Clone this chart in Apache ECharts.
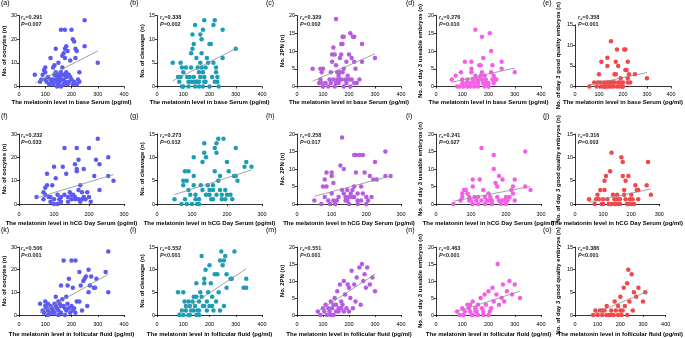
<!DOCTYPE html>
<html>
<head>
<meta charset="utf-8">
<script src="https://cdn.jsdelivr.net/npm/echarts@6/dist/echarts.min.js"></script>
<style>
  html, body { margin: 0; padding: 0; background: #fff; }
  #chart { width: 685px; height: 338px; }
</style>
</head>
<body>
<div id="chart"></div>
<script>
// outcome per column, melatonin source per row
var yNames = ['No. of oocytes (n)', 'No. of cleavage (n)', 'No. 2PN (n)',
	'No. of day 3 useable embryos (n)', 'No. of day 3 good quality embryos (n)'];
var xNames = ['The melatonin level in base Serum (pg/ml)',
	'The melatonin level in hCG Day Serum (pg/ml)',
	'The melatonin level in follicular fluid (pg/ml)'];
var yMaxList = [30, 15, 20, 20, 15];
var yStepList = [10, 5, 5, 5, 5];
var xMaxList = [400, 300, 400];
var tags = ['(a)', '(b)', '(c)', '(d)', '(e)', '(f)', '(g)', '(h)', '(i)', '(j)', '(k)', '(l)', '(m)', '(n)', '(o)'];
var rsList = ['0.291', '0.338', '0.329', '0.276', '0.358', '0.232', '0.273', '0.258', '0.241', '0.316',
	'0.506', '0.552', '0.551', '0.463', '0.386'];
var pList = ['=0.007', '=0.002', '=0.002', '=0.010', '=0.001', '=0.033', '=0.012', '=0.017', '=0.027', '=0.003',
	'<0.001', '<0.001', '<0.001', '<0.001', '<0.001'];

// row 1: base serum
var dataA = [[160,24],[175,24],[200,24],[250,28],[205,20],[210,19],[215,16],[220,15],[250,17],[300,10],[180,17],[175,16],
	[170,14],[165,13],[185,15],[140,16],[120,12],[150,10],[135,9],[130,8],[175,12],[195,11],[215,12],[230,6],[225,3],[230,2],
	[205,1],[190,2],[100,8],[95,7],[90,5],[100,6],[85,3],[80,2],[60,5],[110,4],[120,3],[125,2],[115,1],[130,1],[140,2],[145,3],
	[150,5],[155,4],[160,6],[165,5],[170,3],[175,2],[180,4],[185,1],[150,1],[160,0],[135,5],[140,6],[145,0],[170,1],[200,3],
	[220,1],[195,4],[165,8],[180,6],[190,5],[105,2],[100,3],[155,2],[145,4],[160,3],[175,5],[130,3],[210,2]];
var dataB = [[60,5],[90,5],[95,4],[90,2],[85,1],[80,2],[100,3],[95,0],[100,0],[110,4],[115,2],[120,1],[130,4],[130,7],[135,8],
	[135,11],[140,9],[145,13],[150,6],[155,4],[160,3],[165,11],[170,10],[175,12],[180,14],[165,5],[170,4],[175,3],[180,2],[185,1],
	[160,1],[150,1],[140,1],[130,1],[120,0],[145,0],[175,0],[200,0],[200,9],[205,9],[215,13],[220,14],[225,4],[225,3],[215,5],
	[210,2],[220,1],[230,1],[230,2],[235,0],[250,12],[250,6],[300,8],[190,6],[195,5],[185,4],[170,7],[165,2],[180,1],[155,1],
	[160,0],[140,2],[125,2]];
var dataC = [[60,5],[90,5],[95,4],[100,5],[90,2],[85,1],[100,0],[95,1],[110,1],[120,0],[125,2],[130,4],[135,7],[135,9],[140,11],
	[145,9],[150,19],[150,6],[155,4],[160,3],[165,2],[170,12],[175,12],[175,14],[180,14],[170,9],[165,8],[180,5],[175,4],[185,2],
	[190,1],[180,0],[200,9],[205,15],[210,8],[215,14],[220,14],[225,5],[220,7],[210,2],[220,1],[230,1],[240,2],[250,12],[250,7],
	[300,8],[160,1],[150,1],[140,2],[130,1],[145,0],[170,2],[195,3],[190,7],[200,2],[205,0],[155,2],[165,4]];
var dataD = [[60,2],[75,3],[80,0],[90,0],[95,4],[100,1],[110,7],[100,2],[105,0],[115,1],[120,0],[130,0],[135,7],[135,5],[135,4],
	[140,2],[145,1],[150,16],[150,3],[155,2],[160,1],[165,6],[170,6],[175,14],[180,8],[175,4],[170,3],[165,2],[160,0],[180,1],
	[185,0],[190,1],[200,1],[205,15],[210,10],[215,6],[210,4],[220,3],[215,2],[225,2],[230,2],[220,1],[250,7],[250,5],[300,4],
	[145,0],[130,1],[120,2],[175,2],[190,2],[200,0],[160,2],[185,3]];
var dataE = [[60,0],[80,1],[90,0],[95,1],[100,3],[105,1],[110,6],[110,0],[120,1],[125,0],[130,1],[135,7],[135,5],[140,0],[145,1],
	[150,11],[150,0],[155,1],[160,0],[165,3],[170,6],[170,3],[175,9],[180,5],[180,1],[185,0],[190,1],[195,0],[200,1],[205,9],
	[210,9],[210,4],[215,4],[220,6],[220,2],[225,3],[220,1],[230,1],[250,3],[300,2],[140,1],[160,1],[175,0],[200,0],[130,0],
	[120,0],[190,2],[165,1]];
// row 2: hCG day serum
var dataF = [[50,3],[70,5],[75,7],[80,8],[80,13],[70,2],[75,4],[85,3],[90,1],[95,8],[100,16],[100,2],[105,11],[110,0],[110,4],
	[115,2],[125,16],[130,24],[135,13],[130,4],[140,3],[145,5],[150,2],[160,17],[165,15],[165,24],[170,19],[165,14],[155,4],
	[160,3],[170,2],[175,1],[175,8],[170,6],[180,5],[185,3],[185,15],[200,24],[190,2],[200,3],[205,1],[215,12],[220,19],[225,28],
	[230,17],[230,6],[255,20],[255,12],[270,10],[120,3],[140,1],[150,4],[180,2],[195,5],[100,0],[90,3],[120,1],[160,2]];
var dataG = [[50,1],[70,0],[75,5],[75,4],[80,7],[85,5],[90,7],[90,3],[95,2],[80,1],[85,0],[100,0],[105,10],[105,6],[105,4],
	[110,2],[110,1],[115,0],[120,1],[130,3],[130,9],[135,11],[135,13],[140,10],[145,4],[150,2],[155,1],[160,3],[165,12],[165,7],
	[170,13],[170,11],[175,14],[170,2],[175,5],[180,6],[180,3],[185,1],[190,14],[195,3],[195,1],[200,9],[205,7],[210,2],[215,1],
	[220,6],[225,12],[225,6],[230,5],[250,8],[255,9],[270,8],[125,4],[140,2],[150,3],[160,4],[120,0],[160,1],[185,2],[200,2]];
var dataH = [[50,1],[70,0],[75,5],[80,7],[85,9],[80,2],[85,5],[90,1],[95,0],[100,9],[100,8],[105,6],[100,3],[105,1],[110,0],
	[115,1],[125,11],[130,19],[135,10],[130,4],[135,3],[140,2],[145,1],[150,2],[155,3],[160,4],[165,14],[170,14],[170,9],[175,3],
	[165,2],[175,1],[180,14],[185,5],[190,3],[190,14],[195,9],[200,2],[205,1],[210,8],[215,2],[220,7],[225,12],[230,7],[255,15],
	[255,8],[270,8],[160,2],[145,4],[120,2],[150,0],[175,0],[185,1],[200,0],[140,1],[165,5]];
var dataI = [[50,0],[70,1],[75,2],[75,3],[80,4],[85,4],[90,3],[95,2],[100,1],[105,5],[105,7],[105,0],[110,2],[115,1],[120,0],
	[125,7],[130,16],[135,4],[140,2],[145,1],[150,3],[155,2],[160,1],[165,14],[165,10],[170,6],[175,5],[175,2],[180,8],[180,1],
	[185,0],[190,7],[195,1],[200,2],[205,1],[210,2],[215,4],[220,5],[220,3],[225,7],[225,1],[255,15],[255,5],[270,4],[130,1],
	[140,0],[150,1],[160,0],[190,1],[200,0],[95,1],[120,2]];
var dataJ = [[50,1],[70,0],[75,1],[80,2],[85,1],[90,3],[95,0],[100,1],[105,3],[105,5],[110,6],[115,1],[120,0],[125,7],[130,11],
	[135,2],[140,1],[145,0],[150,1],[155,0],[160,1],[165,10],[170,9],[170,6],[175,3],[175,2],[180,5],[180,1],[185,0],[190,6],
	[195,1],[200,2],[205,1],[210,0],[215,4],[220,3],[225,3],[225,1],[255,4],[260,9],[270,2],[130,0],[140,0],[160,0],[190,0],
	[100,0],[150,2],[200,0]];
// row 3: follicular fluid
var dataK = [[80,5],[90,2],[95,1],[100,6],[100,4],[105,3],[110,5],[110,2],[115,1],[120,4],[125,3],[130,2],[135,1],[140,8],[140,4],
	[145,3],[150,6],[150,2],[155,5],[160,13],[160,1],[165,7],[170,24],[170,4],[175,3],[180,8],[180,2],[185,13],[185,5],[190,16],
	[195,1],[200,24],[200,4],[205,12],[210,3],[215,24],[215,1],[220,6],[230,19],[230,6],[235,13],[240,2],[245,15],[250,16],
	[255,17],[260,4],[265,20],[265,10],[270,13],[275,17],[285,12],[290,12],[295,16],[330,19],[340,28],[340,10],[125,1],[135,5],
	[175,0],[190,3],[110,0],[150,0],[205,2],[160,4]];
var dataL = [[80,5],[85,0],[95,1],[100,5],[100,0],[105,3],[110,2],[110,1],[120,3],[125,2],[125,0],[130,1],[135,3],[140,4],[145,2],
	[150,7],[150,4],[155,1],[160,3],[160,0],[165,5],[170,4],[170,13],[175,2],[180,8],[180,7],[185,10],[190,3],[195,5],[200,11],
	[200,2],[205,7],[210,4],[215,1],[220,9],[225,3],[230,9],[235,5],[240,12],[240,1],[245,14],[250,11],[255,2],[255,12],[260,13],
	[265,9],[265,6],[280,8],[285,8],[295,14],[330,6],[340,8],[340,6],[180,2],[140,1],[120,0],[190,1],[210,2],[160,1],[150,0]];
var dataM = [[80,1],[90,0],[100,2],[105,1],[110,3],[115,0],[120,2],[125,1],[130,4],[135,2],[140,3],[145,5],[150,1],[155,7],
	[160,2],[165,9],[170,4],[175,3],[180,10],[185,6],[190,2],[195,9],[200,8],[205,5],[210,13],[215,2],[220,9],[225,4],[230,11],
	[240,14],[245,3],[250,15],[255,10],[260,12],[265,8],[270,14],[280,9],[290,11],[300,7],[140,0],[160,1],[180,1],[200,1],
	[130,0],[170,2],[150,3]];
var dataN = [[80,1],[90,0],[100,2],[105,0],[110,1],[120,3],[125,2],[130,1],[135,0],[140,4],[150,2],[155,1],[160,3],[170,5],
	[175,2],[180,1],[185,6],[190,3],[200,7],[205,1],[210,2],[215,8],[220,4],[230,6],[235,15],[240,3],[250,5],[255,9],[260,4],
	[270,7],[280,10],[290,6],[300,9],[320,5],[140,0],[160,0],[180,0],[200,0],[150,1],[130,3]];
var dataO = [[80,0],[90,1],[100,0],[110,1],[120,0],[130,1],[140,2],[150,0],[160,1],[170,0],[175,3],[180,1],[190,2],[200,4],
	[205,0],[210,1],[215,6],[220,2],[230,7],[235,10],[240,3],[250,9],[255,1],[260,5],[270,4],[280,6],[300,3],[310,5],[140,0],
	[160,0],[190,0],[200,1],[120,1],[230,0]];

// regression lines
var fitA = [[62,1.5],[300,15]], fitB = [[60,1.2],[300,8]], fitC = [[60,1.5],[300,9.2]], fitD = [[60,1.2],[300,5.2]],
	fitE = [[60,0.4],[300,3.4]];
var fitF = [[50,2.6],[270,12.6]], fitG = [[50,2],[270,7.3]], fitH = [[50,2.2],[270,8]], fitI = [[50,0.8],[270,5]],
	fitJ = [[50,0.4],[270,3.2]];
var fitK = [[80,1],[340,18]], fitL = [[80,0.3],[340,10.2]], fitM = [[80,1],[300,12]], fitN = [[80,1],[320,7]],
	fitO = [[80,0.2],[310,5]];

var allData = [dataA, dataB, dataC, dataD, dataE, dataF, dataG, dataH, dataI, dataJ, dataK, dataL, dataM, dataN, dataO];
var allFit = [fitA, fitB, fitC, fitD, fitE, fitF, fitG, fitH, fitI, fitJ, fitK, fitL, fitM, fitN, fitO];

var colors = ['#5b5bf3', '#1c9db6', '#b55de2', '#f45fe6', '#f2474b'];
var font = 'Liberation Sans';

// layout
var colLeft = [18, 157, 297, 436, 575];
var colWidth = [106, 105, 104, 105, 106];
var rowTop = [15.5, 134, 247];
var rowHeight = [71, 70, 70];
var yNameGap = [8, 10, 10, 13, 14];
var xLabelMargin = [3, 5, 4];
var xNameGap = [11, 14, 14];
var tagX = [1, 130, 266, 406, 543];
var tagY = [0, 113, 227];

var grids = [], xAxes = [], yAxes = [], series = [], titles = [];

for (var i = 0; i < 15; i++) {
	var r = Math.floor(i / 5), c = i % 5;
	grids.push({
		left: colLeft[c], top: rowTop[r], width: colWidth[c], height: rowHeight[r]
	});
	var axisLine = { lineStyle: { color: '#000', width: 0.8 } };
	xAxes.push({
		gridIndex: i, type: 'value', min: 0, max: xMaxList[r], interval: 100, offset: 2,
		name: xNames[r], nameLocation: 'middle', nameGap: xNameGap[r],
		nameTextStyle: { fontFamily: font, fontSize: 6, fontWeight: 'bold', color: '#000' },
		axisLine: axisLine, axisTick: { show: true, length: 2, lineStyle: { color: '#000', width: 0.8 } },
		axisLabel: { fontFamily: font, fontSize: 5.5, color: '#000', margin: xLabelMargin[r] },
		splitLine: { show: false }
	});
	yAxes.push({
		gridIndex: i, type: 'value', min: 0, max: yMaxList[c], interval: yStepList[c],
		name: yNames[c], nameLocation: 'middle', nameGap: yNameGap[c],
		nameTextStyle: { fontFamily: font, fontSize: 6, fontWeight: 'bold', color: '#000' },
		axisLine: { show: true, lineStyle: { color: '#000', width: 0.8 } },
		axisTick: { show: true, length: 2, lineStyle: { color: '#000', width: 0.8 } },
		axisLabel: { fontFamily: font, fontSize: 5.5, color: '#000', margin: 2 },
		splitLine: { show: false }
	});
	series.push({
		type: 'scatter', xAxisIndex: i, yAxisIndex: i, data: allData[i],
		symbol: 'circle', symbolSize: 4.5, itemStyle: { color: colors[c], opacity: 1 },
		silent: true, z: 2
	});
	series.push({
		type: 'line', xAxisIndex: i, yAxisIndex: i, data: allFit[i],
		symbol: 'none', lineStyle: { color: '#8c8c8c', width: 0.8 }, silent: true, z: 3
	});
	titles.push({
		text: tags[i], left: tagX[c], top: tagY[r], padding: 0,
		textStyle: { fontFamily: font, fontSize: 7, fontWeight: 'normal', color: '#000' }
	});
	titles.push({
		text: '{i|r}{s|s}{n|=' + rsList[i] + '}\n{i|P}{n|' + pList[i] + '}',
		left: colLeft[c] + 3, top: rowTop[r] - 2, padding: 0,
		textStyle: {
			lineHeight: 7,
			rich: {
				i: { fontFamily: font, fontSize: 5.5, fontStyle: 'italic', color: '#222', lineHeight: 7 },
				s: { fontFamily: font, fontSize: 4, fontStyle: 'italic', color: '#222', verticalAlign: 'bottom', padding: [3, 0, 0, 0], lineHeight: 7 },
				n: { fontFamily: font, fontSize: 5.5, color: '#222', lineHeight: 7 }
			}
		}
	});
}

var chart = echarts.init(document.getElementById('chart'), null, { renderer: 'canvas' });
chart.setOption({
	animation: false,
	backgroundColor: '#fff',
	title: titles,
	grid: grids,
	xAxis: xAxes,
	yAxis: yAxes,
	series: series
});
</script>
</body>
</html>
